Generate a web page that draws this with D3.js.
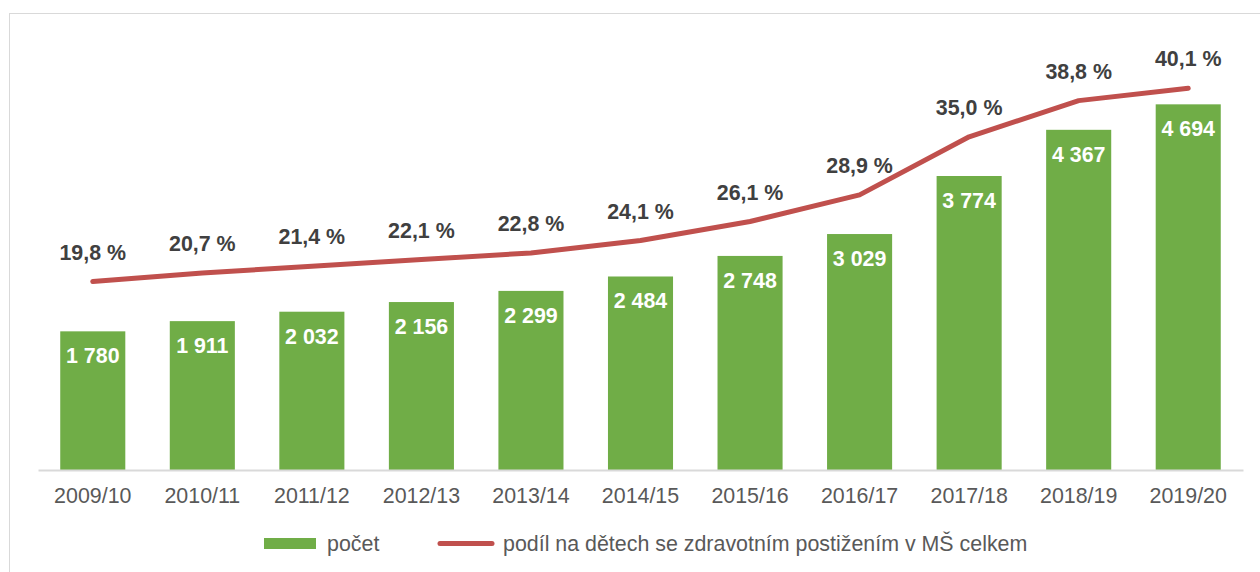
<!DOCTYPE html>
<html>
<head>
<meta charset="utf-8">
<script src="https://cdn.jsdelivr.net/npm/d3@7"></script>
<style>
  body { margin: 0; background: #fff; }
  svg { display: block; font-family: "Liberation Sans", Arial, sans-serif; }
</style>
</head>
<body>
<div id="chart"></div>
<script>
const years = ["2009/10", "2010/11", "2011/12", "2012/13", "2013/14", "2014/15",
               "2015/16", "2016/17", "2017/18", "2018/19", "2019/20"];
const counts = [1780, 1911, 2032, 2156, 2299, 2484, 2748, 3029, 3774, 4367, 4694];
const shares = [19.8, 20.7, 21.4, 22.1, 22.8, 24.1, 26.1, 28.9, 35.0, 38.8, 40.1];

const seriesNames = ["počet", "podíl na dětech se zdravotním postižením v MŠ celkem"];

const width = 1260, height = 572;
const colorBar = "#70AD47", colorLine = "#C0504D";
const colorText = "#595959", colorLabel = "#404040";
const fontSize = "21.4px";

const fmtCount = d => d3.format(",")(d).replace(/,/g, " ");
const fmtShare = d => d3.format(".1f")(d).replace(".", ",") + " %";

let svg = d3.select("#chart")
            .append("svg")
            .attr("width", width)
            .attr("height", height);

// chart frame
svg.append("rect")
   .attr("x", 9.5)
   .attr("y", 13.5)
   .attr("width", width)
   .attr("height", height)
   .attr("fill", "none")
   .attr("stroke", "#D9D9D9")
   .attr("stroke-width", 1);

const x = d3.scaleBand()
            .domain(years)
            .range([38, 1243])
            .paddingInner(0.406)
            .paddingOuter(0.203);

const yCount = d3.scaleLinear().domain([0, 5000]).range([470, 80.5]);
const yShare = d3.scaleLinear().domain([0, 45]).range([470, 41.6]);

// bars
svg.selectAll(".bar")
   .data(counts)
   .enter()
   .append("rect")
   .attr("class", "bar")
   .attr("x", (d, i) => x(years[i]))
   .attr("y", d => yCount(d))
   .attr("width", x.bandwidth())
   .attr("height", d => yCount(0) - yCount(d))
   .attr("fill", colorBar);

// x axis
const xAxis = svg.append("g")
   .attr("transform", "translate(0," + yCount(0) + ")")
   .call(d3.axisBottom(x).tickSize(0).tickPadding(18));
xAxis.select(".domain").attr("stroke", "#D9D9D9").attr("stroke-width", 2);
xAxis.selectAll("text")
     .attr("fill", colorText)
     .style("font-size", fontSize)
     .style("font-family", "Liberation Sans, Arial, sans-serif");

// bar labels
svg.selectAll(".bar-label")
   .data(counts)
   .enter()
   .append("text")
   .attr("class", "bar-label")
   .attr("x", (d, i) => x(years[i]) + x.bandwidth() / 2)
   .attr("y", d => yCount(d) + 32)
   .attr("text-anchor", "middle")
   .attr("fill", "#fff")
   .style("font-size", fontSize)
   .style("font-weight", "bold")
   .text(fmtCount);

// share line
const line = d3.line()
   .x((d, i) => x(years[i]) + x.bandwidth() / 2)
   .y(d => yShare(d));

svg.append("path")
   .datum(shares)
   .attr("d", line)
   .attr("fill", "none")
   .attr("stroke", colorLine)
   .attr("stroke-width", 5)
   .attr("stroke-linecap", "round")
   .attr("stroke-linejoin", "round");

svg.selectAll(".share-label")
   .data(shares)
   .enter()
   .append("text")
   .attr("class", "share-label")
   .attr("x", (d, i) => x(years[i]) + x.bandwidth() / 2)
   .attr("y", d => yShare(d) - 22)
   .attr("text-anchor", "middle")
   .attr("fill", colorLabel)
   .style("font-size", fontSize)
   .style("font-weight", "bold")
   .text(fmtShare);

// legend
const legend = svg.append("g");
legend.append("rect")
      .attr("x", 264).attr("y", 538)
      .attr("width", 52).attr("height", 11)
      .attr("fill", colorBar);
legend.append("text")
      .attr("x", 327).attr("y", 550.5)
      .attr("fill", colorText)
      .style("font-size", fontSize)
      .text(seriesNames[0]);
legend.append("line")
      .attr("x1", 440).attr("x2", 492)
      .attr("y1", 543.5).attr("y2", 543.5)
      .attr("stroke", colorLine)
      .attr("stroke-width", 5)
      .attr("stroke-linecap", "round");
legend.append("text")
      .attr("x", 503).attr("y", 550.5)
      .attr("fill", colorText)
      .style("font-size", fontSize)
      .text(seriesNames[1]);
</script>
</body>
</html>
